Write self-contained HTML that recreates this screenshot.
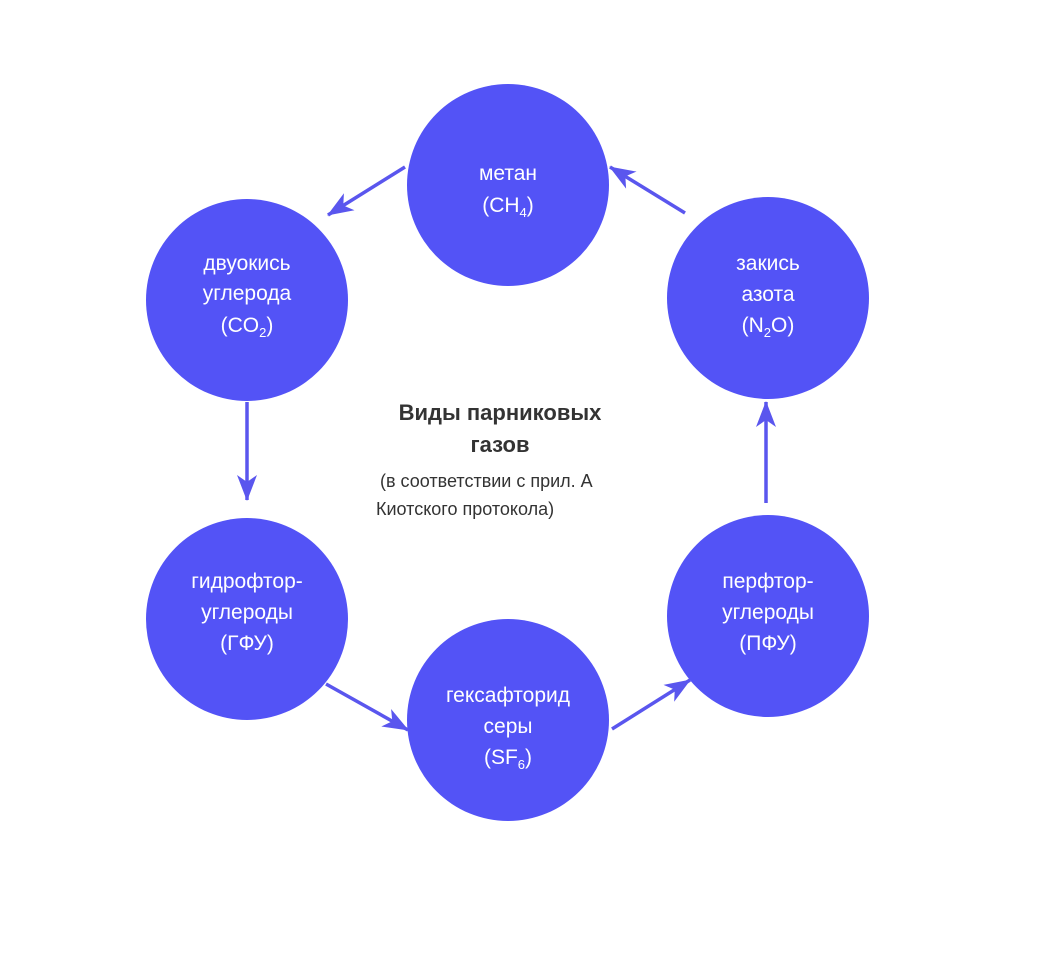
<!DOCTYPE html>
<html><head><meta charset="utf-8"><style>
body{margin:0;background:#fff;}
svg{display:block}
.c{fill:#5353f6}
.t{font-family:"Liberation Sans","DejaVu Sans",sans-serif;font-size:21px;fill:#fff;text-anchor:middle}
.s{font-size:13px}
</style></head><body>
<svg width="1062" height="958" viewBox="0 0 1062 958" xmlns="http://www.w3.org/2000/svg">
<defs><marker id="a" markerWidth="30" markerHeight="24" refX="25" refY="0" viewBox="0 -12 30 24" orient="auto" markerUnits="userSpaceOnUse"><path d="M0,-10 L26,0 L0,10 L7,0 z" fill="#5a56ee"/></marker></defs>
<circle class="c" cx="508" cy="185" r="101"/>
<circle class="c" cx="247" cy="300" r="101"/>
<circle class="c" cx="768" cy="298" r="101"/>
<circle class="c" cx="247" cy="619" r="101"/>
<circle class="c" cx="508" cy="720" r="101"/>
<circle class="c" cx="768" cy="616" r="101"/>
<g stroke="#5a56ee" stroke-width="3.5" fill="none" marker-end="url(#a)">
<path d="M405,167 L328,215"/>
<path d="M247,402 L247,500"/>
<path d="M326,684 L408,730"/>
<path d="M612,729 L690,680"/>
<path d="M766,503 L766,402"/>
<path d="M685,213 L610,167"/>
</g>
<text class="t" x="508" y="180">метан</text>
<text class="t" x="508" y="212">(CH<tspan class="s" dy="5">4</tspan><tspan dy="-5">)</tspan></text>
<text class="t" x="247" y="270">двуокись</text>
<text class="t" x="247" y="300">углерода</text>
<text class="t" x="247" y="332">(CO<tspan class="s" dy="5">2</tspan><tspan dy="-5">)</tspan></text>
<text class="t" x="768" y="270">закись</text>
<text class="t" x="768" y="301">азота</text>
<text class="t" x="768" y="332">(N<tspan class="s" dy="5">2</tspan><tspan dy="-5">O)</tspan></text>
<text class="t" x="247" y="588">гидрофтор-</text>
<text class="t" x="247" y="619">углероды</text>
<text class="t" x="247" y="650">(ГФУ)</text>
<text class="t" x="508" y="702">гексафторид</text>
<text class="t" x="508" y="733">серы</text>
<text class="t" x="508" y="764">(SF<tspan class="s" dy="5">6</tspan><tspan dy="-5">)</tspan></text>
<text class="t" x="768" y="588">перфтор-</text>
<text class="t" x="768" y="619">углероды</text>
<text class="t" x="768" y="650">(ПФУ)</text>
<g font-family="Liberation Sans,DejaVu Sans,sans-serif" fill="#333">
<text x="500" y="420" font-size="22" font-weight="bold" text-anchor="middle">Виды парниковых</text>
<text x="500" y="452" font-size="22" font-weight="bold" text-anchor="middle">газов</text>
<text x="380" y="487" font-size="18">(в соответствии с прил. А</text>
<text x="376" y="515" font-size="18">Киотского протокола)</text>
</g>
</svg>
</body></html>
